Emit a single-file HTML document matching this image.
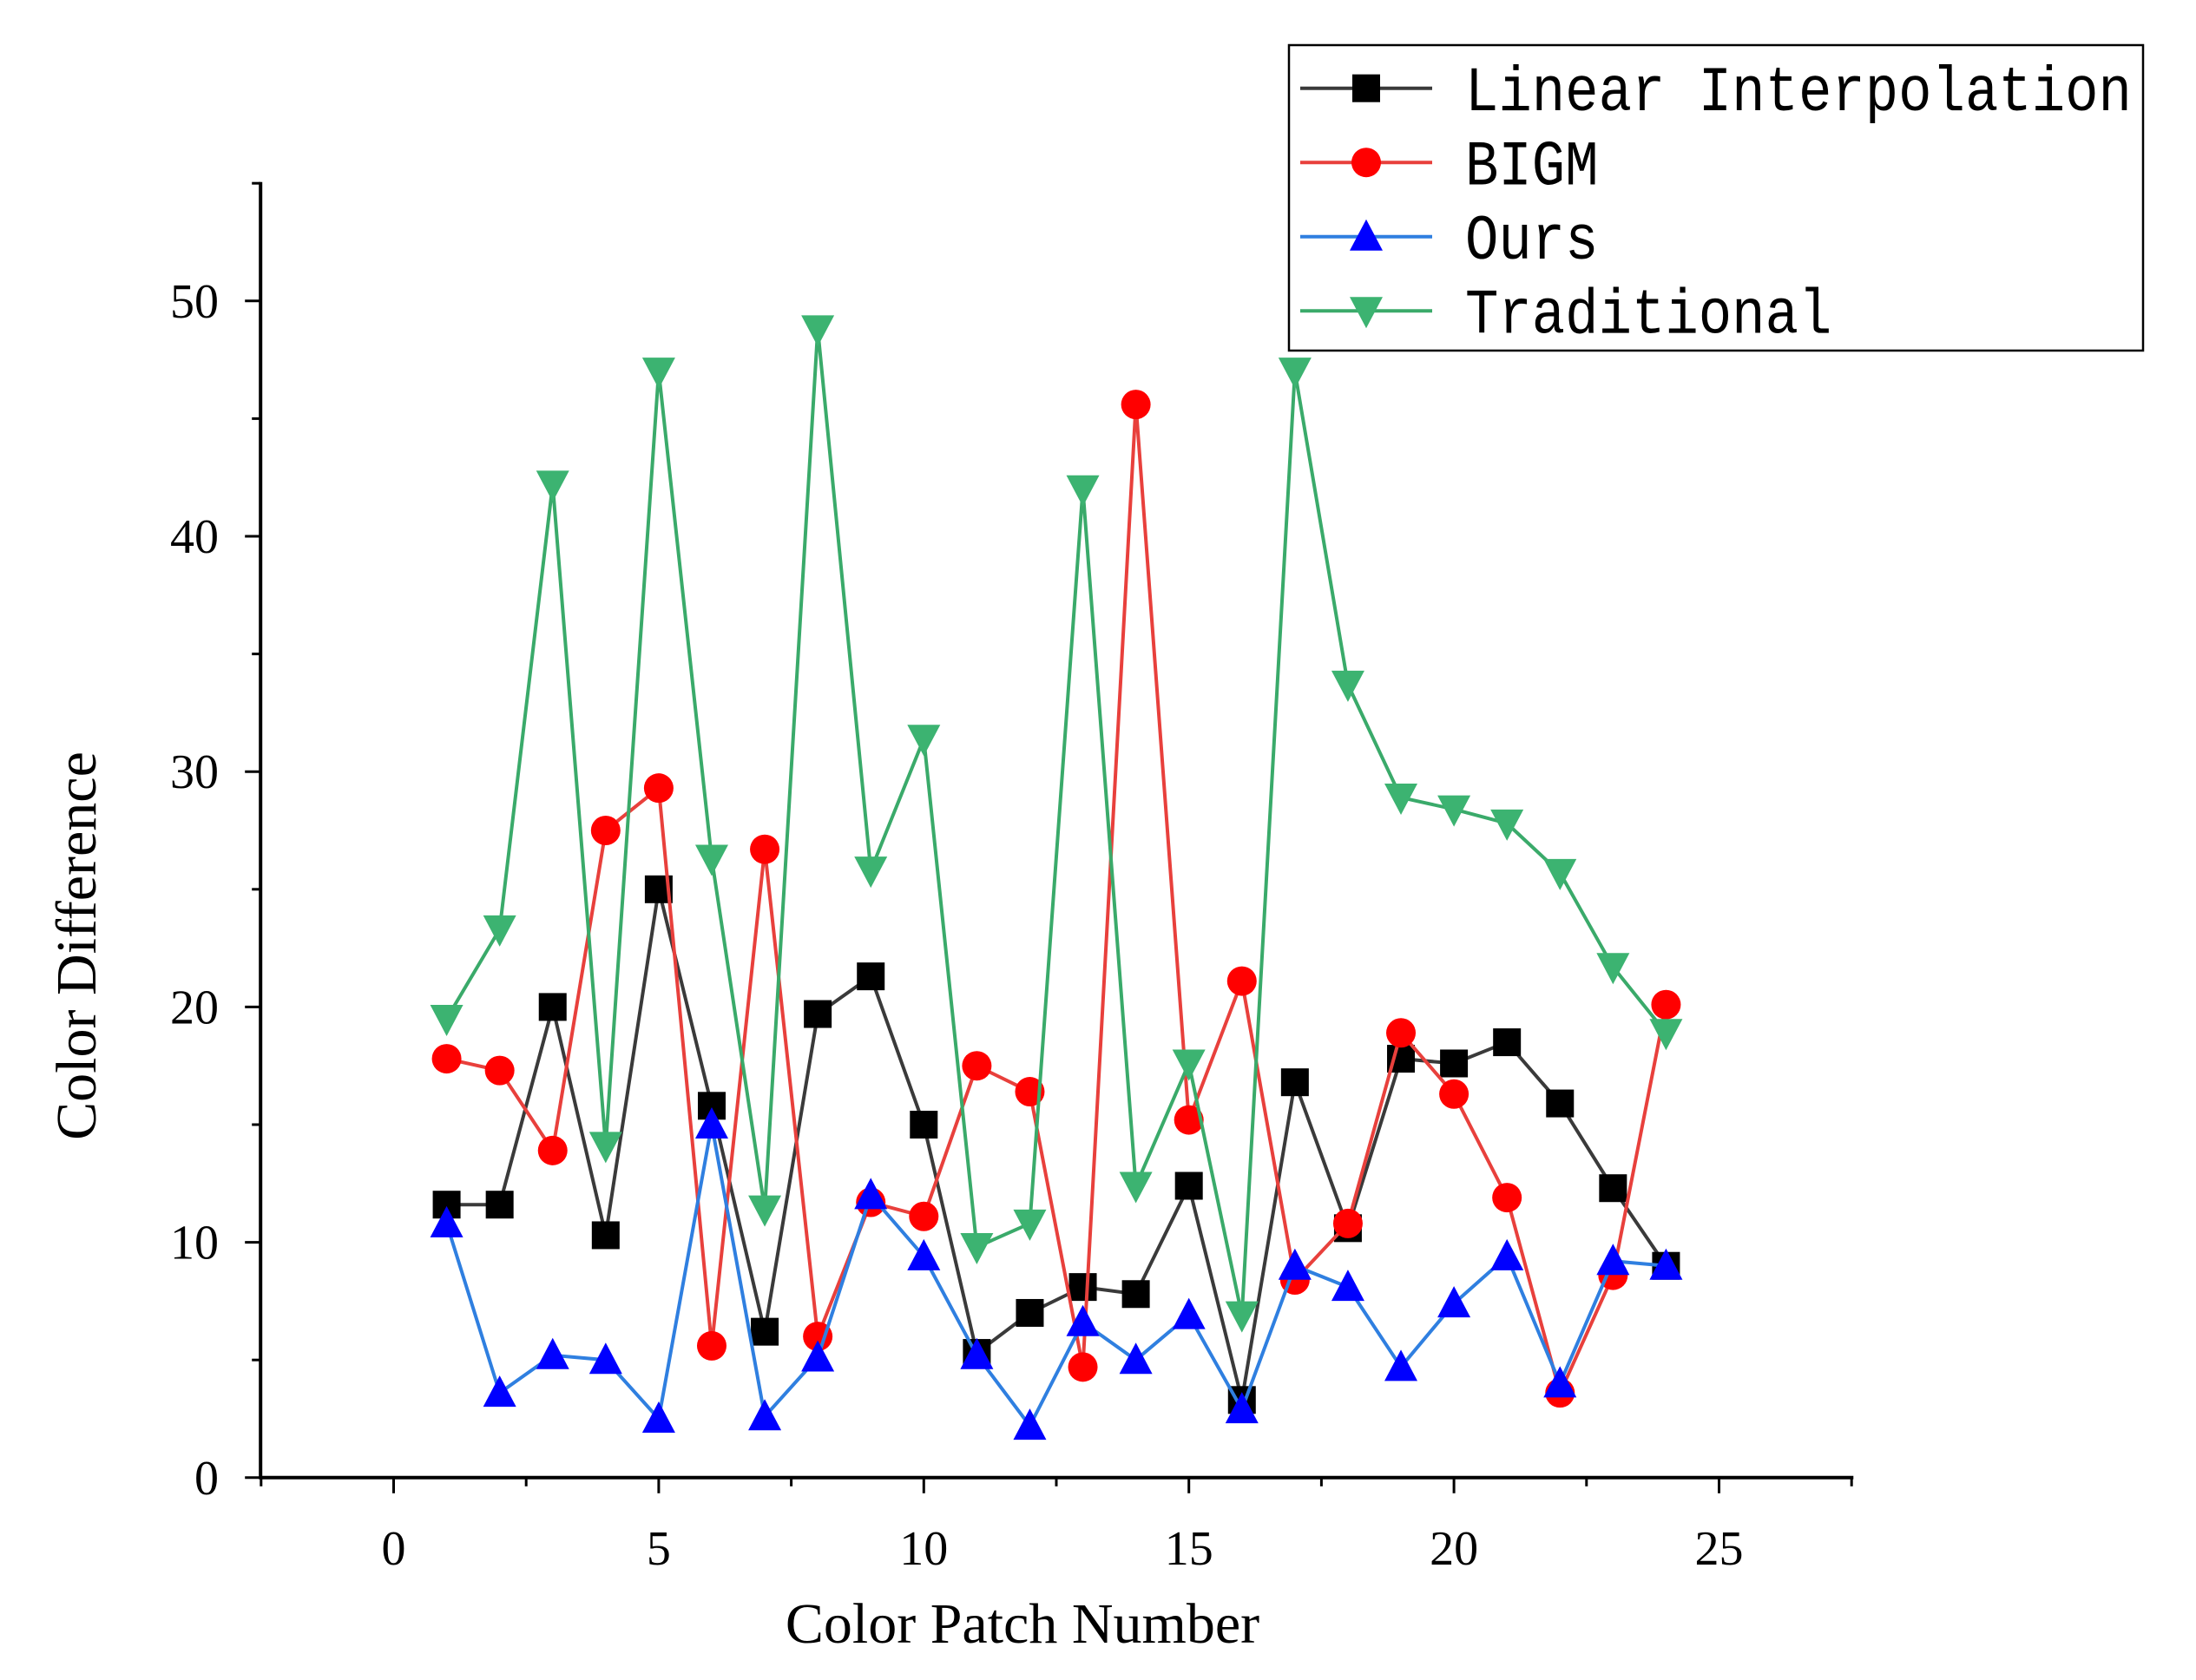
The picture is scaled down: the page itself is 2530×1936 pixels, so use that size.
<!DOCTYPE html>
<html><head><meta charset="utf-8"><style>
html,body{margin:0;padding:0;background:#fff;}
svg{display:block;}
</style></head><body>
<svg id="chart" width="2530" height="1936" viewBox="0 0 2530 1936" xmlns="http://www.w3.org/2000/svg"></svg>
<script>
const patches=[1,2,3,4,5,6,7,8,9,10,11,12,13,14,15,16,17,18,19,20,21,22,23,24];
const linearVals=[11.6,11.6,20,10.3,25,15.8,6.2,19.7,21.3,15,5.3,7,8.1,7.8,12.4,3.3,16.8,10.6,17.8,17.6,18.5,15.9,12.3,9];
const bigmVals=[17.8,17.3,13.9,27.5,29.3,5.6,26.7,6,11.7,11.1,17.5,16.4,4.7,45.6,15.2,21.1,8.4,10.8,18.9,16.3,11.9,3.6,8.6,20.1];
const oursVals=[10.8,3.6,5.2,5,2.5,15,2.6,5.1,12,9.4,5.2,2.2,6.6,5,6.9,2.9,9,8.1,4.7,7.4,9.4,4,9.2,9];
const tradVals=[19.5,23.3,42.2,14.1,47,26.3,11.4,48.8,25.8,31.4,9.8,10.8,42,12.4,17.6,6.9,47,33.7,28.9,28.4,27.8,25.7,21.7,18.9];
const xTicks=[0,5,10,15,20,25];
const yTicks=[0,10,20,30,40,50];

const NS="http://www.w3.org/2000/svg";
const svg=document.getElementById('chart');
const X=v=>453.5+v*61.08;
const Y=v=>1702.8-v*27.12;
function el(t,a,p){const e=document.createElementNS(NS,t);for(const k in a)e.setAttribute(k,a[k]);(p||svg).appendChild(e);return e;}

let ax=el('line',{x1:300.2,y1:1702.8,x2:2135.3,y2:1702.8,stroke:'#000','stroke-width':4});


let ay=el('line',{x1:300.2,y1:209.8,x2:300.2,y2:1704.8,stroke:'#000','stroke-width':4});


for(let v=-2.5;v<=27.6;v+=2.5){
  const major=Math.abs(v%5)<0.01;
  el('line',{x1:X(v),y1:1702.8,x2:X(v),y2:1702.8+(major?18:10),stroke:'#000','stroke-width':3});
}
for(let v=0;v<=55;v+=5){
  const major=v%10===0;
  el('line',{x1:300.2,y1:Y(v),x2:300.2-(major?18:10),y2:Y(v),stroke:'#000','stroke-width':3});
}
xTicks.forEach(v=>{
  const t=el('text',{x:X(v),y:1803,'text-anchor':'middle','font-family':'Liberation Serif, serif','font-size':56});
  t.textContent=v;
  
  
});
yTicks.forEach(v=>{
  const t=el('text',{x:252,y:Y(v)+19,'text-anchor':'end','font-family':'Liberation Serif, serif','font-size':56});
  t.textContent=v;
  
  
});
let xt=el('text',{x:1178,y:1893,'text-anchor':'middle','font-family':'Liberation Serif, serif','font-size':66});
xt.textContent='Color Patch Number';


let yt=el('text',{x:0,y:0,'text-anchor':'middle','font-family':'Liberation Serif, serif','font-size':66,transform:'translate(110,1090) rotate(-90)'});
yt.textContent='Color Difference';



function marker(g,shape,cx,cy,fill){
  const s=16;
  if(shape==='sq') return el('rect',{x:cx-s,y:cy-s,width:2*s,height:2*s,fill:fill},g);
  if(shape==='ci') return el('circle',{cx:cx,cy:cy,r:s+1,fill:fill},g);
  if(shape==='up') return el('polygon',{points:`${cx},${cy-s-4} ${cx-s-3},${cy+s} ${cx+s+3},${cy+s}`,fill:fill},g);
  return el('polygon',{points:`${cx},${cy+s+4} ${cx-s-3},${cy-s} ${cx+s+3},${cy-s}`,fill:fill},g);
}
const series=[
  {name:'linear-interpolation',vals:linearVals,line:'#3a3a3a',mk:'#000',shape:'sq'},
  {name:'bigm',vals:bigmVals,line:'#e8403c',mk:'#ff0000',shape:'ci'},
  {name:'ours',vals:oursVals,line:'#2f7fe0',mk:'#0000ff',shape:'up'},
  {name:'traditional',vals:tradVals,line:'#3aaa6a',mk:'#3cb371',shape:'dn'}
];
series.forEach(s=>{
  const g=el('g',{});
  
  
  const pl=el('polyline',{points:patches.map((p,i)=>X(p)+','+Y(s.vals[i])).join(' '),fill:'none',stroke:s.line,'stroke-width':4},g);
  
  
  patches.forEach((p,i)=>{
    const m=marker(g,s.shape,X(p),Y(s.vals[i]),s.mk);
    
    
  });
});

const lg=el('g',{});


el('rect',{x:1485,y:52,width:984,height:352,fill:'#fff',stroke:'#000','stroke-width':2.5},lg);
const labels=['Linear Interpolation','BIGM','Ours','Traditional'];
[101.7,187.2,272.8,358.3].forEach((y,i)=>{
  const s=series[i];
  const e=el('g',{},lg);
  
  
  el('line',{x1:1498,y1:y,x2:1650,y2:y,stroke:s.line,'stroke-width':4},e);
  marker(e,s.shape,1574,y,s.mk);
  const t=el('text',{x:1688,y:y+22,'font-family':'Liberation Mono, monospace','font-size':64,transform:`translate(0,${y}) scale(1,1.15) translate(0,${-y})`},e);
  t.textContent=labels[i];
});
</script>
</body></html>
